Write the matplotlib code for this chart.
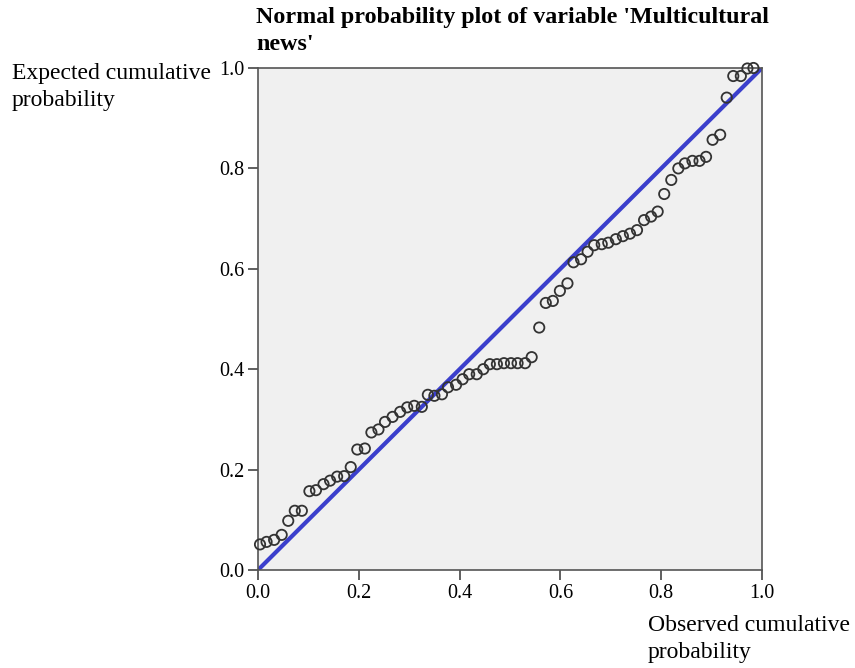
import matplotlib
matplotlib.use("Agg")
import matplotlib.pyplot as plt

observed = [0.004, 0.017, 0.032, 0.047, 0.060, 0.073, 0.087, 0.102, 0.115, 0.130,
            0.143, 0.157, 0.171, 0.184, 0.197, 0.212, 0.225, 0.239, 0.252, 0.267,
            0.282, 0.296, 0.310, 0.325, 0.337, 0.350, 0.365, 0.377, 0.393, 0.406,
            0.419, 0.434, 0.447, 0.460, 0.474, 0.488, 0.502, 0.515, 0.530, 0.543,
            0.558, 0.571, 0.585, 0.599, 0.614, 0.626, 0.641, 0.654, 0.667, 0.682,
            0.695, 0.710, 0.724, 0.738, 0.752, 0.766, 0.780, 0.793, 0.806, 0.820,
            0.834, 0.847, 0.862, 0.876, 0.889, 0.902, 0.917, 0.930, 0.943, 0.958,
            0.971, 0.983]
expected = [0.051, 0.056, 0.060, 0.070, 0.098, 0.118, 0.118, 0.157, 0.159, 0.171,
            0.178, 0.186, 0.187, 0.205, 0.240, 0.242, 0.274, 0.280, 0.295, 0.305,
            0.315, 0.324, 0.327, 0.325, 0.349, 0.347, 0.350, 0.364, 0.369, 0.380,
            0.390, 0.390, 0.400, 0.410, 0.410, 0.412, 0.412, 0.412, 0.412, 0.424,
            0.483, 0.532, 0.536, 0.556, 0.571, 0.613, 0.619, 0.634, 0.647, 0.649,
            0.652, 0.659, 0.665, 0.670, 0.677, 0.697, 0.704, 0.714, 0.749, 0.777,
            0.800, 0.810, 0.815, 0.815, 0.823, 0.857, 0.867, 0.941, 0.984, 0.984,
            0.999, 1.000]
ticks = [0.0, 0.2, 0.4, 0.6, 0.8, 1.0]
tick_labels = ["0.0", "0.2", "0.4", "0.6", "0.8", "1.0"]
ref_line = [0.0, 1.0]

plt.rcParams['font.family'] = ['Liberation Serif', 'DejaVu Serif']

fig = plt.figure(figsize=(8.55, 6.68), dpi=100)
ax = fig.add_axes([258/855, 1-570/668, 504/855, 502/668])
ax.set_facecolor('#f0f0f0')
ax.plot(ref_line, ref_line, color='#3b3fcc', linewidth=3, zorder=2)
ax.scatter(observed, expected, s=55, facecolors='none', edgecolors='#333333',
           linewidths=1.3, zorder=3, clip_on=False)
ax.set_xlim(0, 1)
ax.set_ylim(0, 1)
ax.set_xticks(ticks)
ax.set_xticklabels(tick_labels)
ax.set_yticks(ticks)
ax.set_yticklabels(tick_labels)
ax.tick_params(direction='out', length=7, width=1.2, colors='#444444',
               labelsize=14.5, labelcolor='black', pad=3)
for s in ax.spines.values():
    s.set_color('#555555')
    s.set_linewidth(1.2)

fig.text(256/855, 1-7/668, "Normal probability plot of variable 'Multicultural\nnews'",
         ha='left', va='top', fontsize=17.3, fontweight='bold', linespacing=1.38)
fig.text(12/855, 1-63/668, "Expected cumulative\nprobability", ha='left', va='top',
         fontsize=17, linespacing=1.35)
fig.text(648/855, 1-615/668, "Observed cumulative\nprobability", ha='left', va='top',
         fontsize=17, linespacing=1.35)

fig.savefig('out.png', dpi=100)
